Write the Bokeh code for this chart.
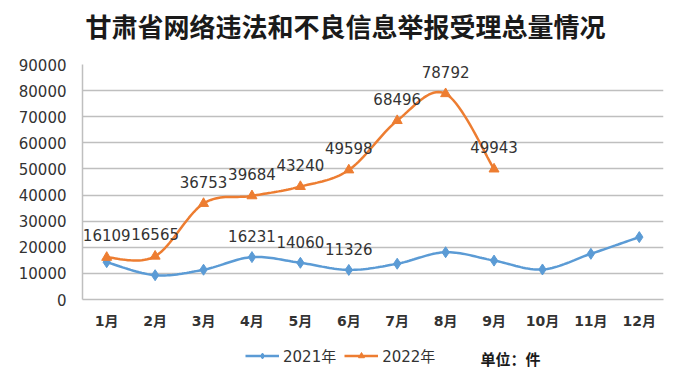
from bokeh.plotting import figure
from bokeh.models import (Legend, LegendItem, FixedTicker, NumeralTickFormatter,
                          Range1d, ColumnDataSource, Label)
from bokeh.layouts import column
from bokeh.core.properties import value
from bokeh.embed import file_html
from bokeh.resources import INLINE

title_text = "甘肃省网络违法和不良信息举报受理总量情况"
months = ["1月", "2月", "3月", "4月", "5月", "6月", "7月", "8月", "9月", "10月", "11月", "12月"]
values_2021 = [14300, 9300, 11400, 16231, 14060, 11326, 13700, 18100, 14900, 11500, 17500, 23900]
values_2022 = [16109, 16565, 36753, 39684, 43240, 49598, 68496, 78792, 49943]
label_idx_2021 = [3, 4, 5]
y_ticks = [0, 10000, 20000, 30000, 40000, 50000, 60000, 70000, 80000, 90000]
series_names = ["2021年", "2022年"]
unit_text = "单位：件"

BLUE = "#5b9bd5"
ORANGE = "#ed7d31"
GRID = "#bfbfbf"
TXT = "#333333"
NUMFONT = "DejaVu Sans, Noto Sans CJK SC"


def smooth(xs, ys, steps=20):
    # Bezier smoothing (Catmull-Rom style) through the given points
    n = len(xs)
    out_x, out_y = [], []
    for i in range(n - 1):
        x0, y0 = (xs[i - 1], ys[i - 1]) if i > 0 else (xs[i], ys[i])
        x1, y1 = xs[i], ys[i]
        x2, y2 = xs[i + 1], ys[i + 1]
        x3, y3 = (xs[i + 2], ys[i + 2]) if i + 2 < n else (x2, y2)
        c1x, c1y = x1 + (x2 - x0) / 6, y1 + (y2 - y0) / 6
        c2x, c2y = x2 - (x3 - x1) / 6, y2 - (y3 - y1) / 6
        for k in range(steps + (1 if i == n - 2 else 0)):
            t = k / steps
            a = (1 - t) ** 3
            b = 3 * (1 - t) ** 2 * t
            c = 3 * (1 - t) * t ** 2
            d = t ** 3
            out_x.append(a * x1 + b * c1x + c * c2x + d * x2)
            out_y.append(a * y1 + b * c1y + c * c2y + d * y2)
    return out_x, out_y


def strip(height):
    s = figure(width=700, height=height, output_backend="svg", toolbar_location=None,
               x_range=Range1d(0, 1), y_range=Range1d(0, 1),
               x_axis_location=None, y_axis_location=None,
               min_border_left=82, min_border_right=37, min_border_top=0, min_border_bottom=0)
    s.outline_line_color = None
    s.xgrid.grid_line_color = None
    s.ygrid.grid_line_color = None
    s.border_fill_color = "white"
    return s


# title strip
t = strip(50)
t.add_layout(Label(x=3, y=25, x_units="screen", y_units="screen", text=title_text,
                   text_align="left", text_baseline="middle", text_font="Noto Sans CJK SC",
                   text_font_style="bold", text_font_size="26px", text_color="#1a1a1a"))

# main chart
p = figure(width=700, height=290, output_backend="svg", toolbar_location=None,
           x_range=Range1d(-0.5, 11.5), y_range=Range1d(0, 90000),
           min_border_left=82, min_border_right=37, min_border_top=14, min_border_bottom=41)
p.outline_line_color = None
p.background_fill_color = "white"
p.border_fill_color = "white"

x21 = list(range(len(values_2021)))
x22 = list(range(len(values_2022)))

sx, sy = smooth(x21, values_2021)
p.line(sx, sy, line_color=BLUE, line_width=2.5)
p.scatter(x21, values_2021, marker="diamond", size=11, fill_color=BLUE, line_color=BLUE)
sx, sy = smooth(x22, values_2022)
p.line(sx, sy, line_color=ORANGE, line_width=2.5)
p.scatter(x22, values_2022, marker="triangle", size=10, fill_color=ORANGE, line_color=ORANGE)

src22 = ColumnDataSource(dict(x=x22, y=values_2022, t=[str(v) for v in values_2022]))
p.text(x="x", y="y", text="t", source=src22, text_align="center", text_baseline="middle",
       y_offset=-22, text_font=value(NUMFONT), text_font_size="15px", text_color=TXT)
src21 = ColumnDataSource(dict(x=label_idx_2021, y=[values_2021[i] for i in label_idx_2021],
                              t=[str(values_2021[i]) for i in label_idx_2021]))
p.text(x="x", y="y", text="t", source=src21, text_align="center", text_baseline="middle",
       y_offset=-21, text_font=value(NUMFONT), text_font_size="15px", text_color=TXT)

p.xgrid.grid_line_color = None
p.ygrid.grid_line_color = GRID
p.ygrid.grid_line_width = 1.5
p.yaxis.ticker = FixedTicker(ticks=y_ticks)
p.yaxis.formatter = NumeralTickFormatter(format="0")
p.xaxis.ticker = FixedTicker(ticks=list(range(12)))
p.xaxis.major_label_overrides = {i: m for i, m in enumerate(months)}
for ax in (p.xaxis[0], p.yaxis[0]):
    ax.axis_line_color = GRID
    ax.axis_line_width = 1.5
    ax.major_tick_line_color = None
    ax.minor_tick_line_color = None
    ax.major_label_text_color = TXT
    ax.major_label_text_font = NUMFONT
p.yaxis.major_label_text_font_size = "15px"
p.yaxis.major_label_standoff = 10
p.xaxis.major_label_text_font_size = "14px"
p.xaxis.major_label_text_font_style = "bold"
p.xaxis.major_label_standoff = 7

# legend strip below the chart
q = strip(40)
off = dict(x=[-5, -4], y=[-5, -5])
ql21 = q.line(off["x"], off["y"], line_color=BLUE, line_width=2.5)
qm21 = q.scatter(off["x"], off["y"], marker="diamond", size=11, fill_color=BLUE, line_color=BLUE)
ql22 = q.line(off["x"], off["y"], line_color=ORANGE, line_width=2.5)
qm22 = q.scatter(off["x"], off["y"], marker="triangle", size=10, fill_color=ORANGE, line_color=ORANGE)

legend = Legend(items=[LegendItem(label=series_names[0], renderers=[ql21, qm21]),
                       LegendItem(label=series_names[1], renderers=[ql22, qm22])],
                orientation="horizontal", location=(163, 14), padding=0, margin=0,
                spacing=8, label_standoff=4, glyph_width=34, glyph_height=15,
                label_height=15, label_text_font_size="15px", label_text_font=NUMFONT,
                label_text_color=TXT, border_line_color=None, background_fill_alpha=0)
q.add_layout(legend)
q.add_layout(Label(x=398, y=22, x_units="screen", y_units="screen", text=unit_text,
                   text_align="left", text_baseline="middle", text_font="Noto Sans CJK SC",
                   text_font_style="bold", text_font_size="15px", text_color="#1a1a1a"))

open("out.html", "w").write(file_html(column(t, p, q, spacing=0), INLINE))
